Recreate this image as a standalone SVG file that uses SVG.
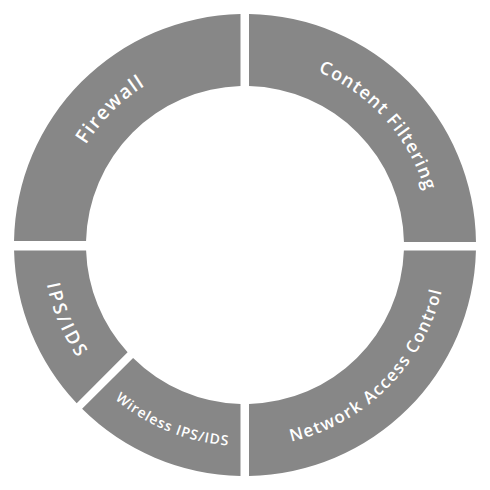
<svg xmlns="http://www.w3.org/2000/svg" xmlns:xlink="http://www.w3.org/1999/xlink" width="490" height="490" viewBox="0 0 490 490">
  <style>
    .seg { fill: #878787; stroke: none; }
    .lbl { fill: #ffffff; font-family: "Open Sans", "Lato", "DejaVu Sans", sans-serif; font-weight: 600; }
  </style>
  <defs>
    <path id="pFirewall" d="M57 245 A188 188 0 0 1 245 57"/>
    <path id="pContent" d="M245 57 A188 188 0 0 1 433 245"/>
    <path id="pNAC" d="M245 447 A202 202 0 0 0 447 245"/>
    <path id="pIPS" d="M43 245 A202 202 0 0 0 102.2 387.8"/>
    <path id="pWireless" d="M102.2 387.8 A201 201 0 0 0 245 446"/>
  </defs>
  <rect width="490" height="490" fill="#ffffff"/>

  <g id="firewall">
    <path class="seg" d="M14.03 241 A231 231 0 0 1 240.5 14.04 L240.5 86.06 A159 159 0 0 0 86.05 241 Z"/>
    <text class="lbl" font-size="19.5"><textPath xlink:href="#pFirewall" href="#pFirewall" startOffset="50%" text-anchor="middle" textLength="84" lengthAdjust="spacing">Firewall</textPath></text>
  </g>

  <g id="content-filtering">
    <path class="seg" d="M249 14.03 A231 231 0 0 1 475.98 242 L403.97 242 A159 159 0 0 0 249 86.05 Z"/>
    <text class="lbl" font-size="18"><textPath xlink:href="#pContent" href="#pContent" startOffset="53.3%" text-anchor="middle" textLength="165" lengthAdjust="spacing">Content Filtering</textPath></text>
  </g>

  <g id="network-access-control">
    <path class="seg" d="M475.93 250.5 A231 231 0 0 1 249 475.97 L249 403.95 A159 159 0 0 0 403.9 250.5 Z"/>
    <text class="lbl" font-size="17"><textPath xlink:href="#pNAC" href="#pNAC" startOffset="50%" text-anchor="middle" textLength="224" lengthAdjust="spacing">Network Access Control</textPath></text>
  </g>

  <g id="ips-ids">
    <path class="seg" d="M14.07 250.5 A231 231 0 0 0 76.7 403.3 L127.6 352.3 A159 159 0 0 1 86.1 250.5 Z"/>
    <text class="lbl" font-size="18.5"><textPath xlink:href="#pIPS" href="#pIPS" startOffset="50%" text-anchor="middle" textLength="80" lengthAdjust="spacing">IPS/IDS</textPath></text>
  </g>

  <g id="wireless-ips-ids">
    <path class="seg" d="M82.1 408.8 A231 231 0 0 0 240.5 475.96 L240.5 403.94 A159 159 0 0 1 133.1 357.9 Z"/>
    <text class="lbl" font-size="14"><textPath xlink:href="#pWireless" href="#pWireless" startOffset="50%" text-anchor="middle" textLength="124" lengthAdjust="spacing">Wireless IPS/IDS</textPath></text>
  </g>

  <g id="connectors"/>
</svg>
